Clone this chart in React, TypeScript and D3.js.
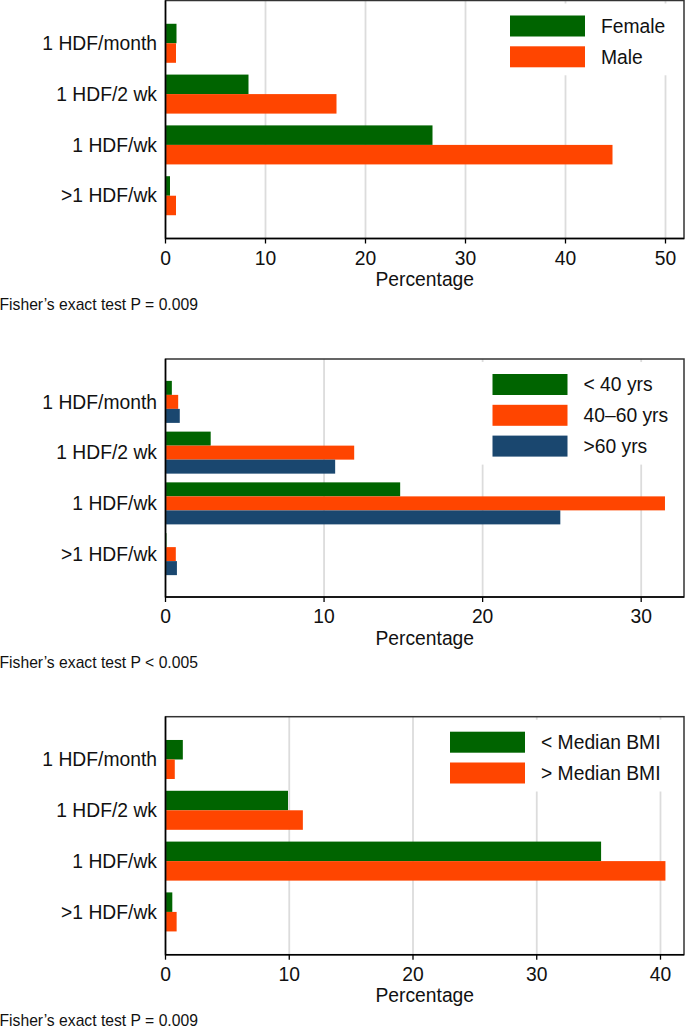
import * as d3 from "d3";

// ---- data ----
const categories = ["1 HDF/month", "1 HDF/2 wk", "1 HDF/wk", ">1 HDF/wk"];

const sexLabels = ["Female", "Male"];
const femaleValues = [1.1, 8.3, 26.7, 0.45];
const maleValues = [1.05, 17.1, 44.7, 1.05];

const ageLabels = ["< 40 yrs", "40\u201360 yrs", ">60 yrs"];
const ageUnder40Values = [0.4, 2.85, 14.8, 0.06];
const age40to60Values = [0.8, 11.9, 31.5, 0.65];
const ageOver60Values = [0.9, 10.7, 24.9, 0.72];

const bmiLabels = ["< Median BMI", "> Median BMI"];
const bmiBelowValues = [1.4, 9.9, 35.2, 0.55];
const bmiAboveValues = [0.75, 11.1, 40.4, 0.9];

const sexTicks = [0, 10, 20, 30, 40, 50];
const ageTicks = [0, 10, 20, 30];
const bmiTicks = [0, 10, 20, 30, 40];

const footnotes = [
  "Fisher\u2019s exact test P = 0.009",
  "Fisher\u2019s exact test P < 0.005",
  "Fisher\u2019s exact test P = 0.009",
];

const GREEN = "#006400";
const ORANGE = "#ff4500";
const NAVY = "#1a476f";

const FONT = "'Liberation Sans', Arial, Helvetica, sans-serif";

type Panel = {
  top: number;
  xMax: number;
  ticks: number[];
  labels: string[];
  series: number[][];
  colors: string[];
  padInner: number;
  padOuter: number;
  legendX: number;
  note: string;
};

const panels: Panel[] = [
  {
    top: 0.5,
    xMax: 51.85,
    ticks: sexTicks,
    labels: sexLabels,
    series: [femaleValues, maleValues],
    colors: [GREEN, ORANGE],
    padInner: 0.232,
    padOuter: 0.458,
    legendX: 510,
    note: footnotes[0],
  },
  {
    top: 359,
    xMax: 32.7,
    ticks: ageTicks,
    labels: ageLabels,
    series: [ageUnder40Values, age40to60Values, ageOver60Values],
    colors: [GREEN, ORANGE, NAVY],
    padInner: 0.172,
    padOuter: 0.431,
    legendX: 492.5,
    note: footnotes[1],
  },
  {
    top: 716.7,
    xMax: 41.9,
    ticks: bmiTicks,
    labels: bmiLabels,
    series: [bmiBelowValues, bmiAboveValues],
    colors: [GREEN, ORANGE],
    padInner: 0.232,
    padOuter: 0.458,
    legendX: 450,
    note: footnotes[2],
  },
];

const LEFT = 165.5;
const RIGHT = 684;
const PLOT_H = 238;
const FS = 19.3;

function BarPanel({ p }: { p: Panel }) {
  const bottom = p.top + PLOT_H;
  const x = d3.scaleLinear().domain([0, p.xMax]).range([LEFT, RIGHT]);
  const y = d3
    .scaleBand<string>()
    .domain(categories)
    .range([p.top, bottom])
    .paddingInner(p.padInner)
    .paddingOuter(p.padOuter);
  const sub = d3
    .scaleBand<number>()
    .domain(d3.range(p.series.length))
    .range([0, y.bandwidth()]);

  const legTop = p.top + 15;
  const legStep = 30.8;
  const boxW = 75;
  const boxH = 21;
  const legBottom = legTop + (p.labels.length - 1) * legStep + boxH + 8;

  return (
    <g>
      {/* grid */}
      {p.ticks
        .filter((t) => t > 0)
        .map((t) => (
          <line key={t} x1={x(t)} x2={x(t)} y1={p.top} y2={bottom} stroke="#dcdcdc" strokeWidth={1.8} />
        ))}
      {/* legend background */}
      <rect
        x={p.legendX - 12}
        y={p.top + 3}
        width={RIGHT - (p.legendX - 12)}
        height={legBottom - p.top - 3}
        fill="#fff"
      />
      {/* bars */}
      {categories.map((c, ci) =>
        p.series.map((s, si) => (
          <rect
            key={c + si}
            x={x(0)}
            y={(y(c) ?? 0) + (sub(si) ?? 0)}
            width={x(s[ci]) - x(0)}
            height={sub.bandwidth()}
            fill={p.colors[si]}
          />
        ))
      )}
      {/* frame */}
      <rect x={LEFT} y={p.top} width={RIGHT - LEFT} height={PLOT_H} fill="none" stroke="#333" strokeWidth={1.5} />
      <line x1={LEFT} x2={LEFT} y1={p.top} y2={bottom} stroke="#000" strokeWidth={1.5} />
      <line x1={LEFT} x2={RIGHT} y1={bottom} y2={bottom} stroke="#000" strokeWidth={1.5} />
      {/* x ticks */}
      {p.ticks.map((t) => (
        <g key={t}>
          <line x1={x(t)} x2={x(t)} y1={bottom} y2={bottom + 5} stroke="#000" strokeWidth={1.3} />
          <text x={x(t)} y={bottom + 26} textAnchor="middle" fontSize={FS} fill="#111">
            {t}
          </text>
        </g>
      ))}
      <text x={(LEFT + RIGHT) / 2} y={bottom + 47.7} textAnchor="middle" fontSize={FS} fill="#111">
        Percentage
      </text>
      {/* category labels */}
      {categories.map((c) => (
        <text
          key={c}
          x={157}
          y={(y(c) ?? 0) + y.bandwidth() / 2}
          dy="0.35em"
          textAnchor="end"
          fontSize={FS}
          fill="#111"
        >
          {c}
        </text>
      ))}
      {/* legend */}
      {p.labels.map((l, i) => (
        <g key={l}>
          <rect x={p.legendX} y={legTop + i * legStep} width={boxW} height={boxH} fill={p.colors[i]} />
          <text
            x={p.legendX + boxW + 16}
            y={legTop + i * legStep + boxH / 2}
            dy="0.35em"
            fontSize={FS}
            fill="#111"
          >
            {l}
          </text>
        </g>
      ))}
      <text x={-0.5} y={bottom + 71} fontSize={15.7} fill="#111">
        {p.note}
      </text>
    </g>
  );
}

export default function App() {
  return (
    <svg
      width={685}
      height={1028}
      style={{ position: "absolute", left: 0, top: 0, background: "#fff", fontFamily: FONT }}
    >
      <rect width={685} height={1028} fill="#fff" />
      {panels.map((p, i) => (
        <BarPanel key={i} p={p} />
      ))}
    </svg>
  );
}
